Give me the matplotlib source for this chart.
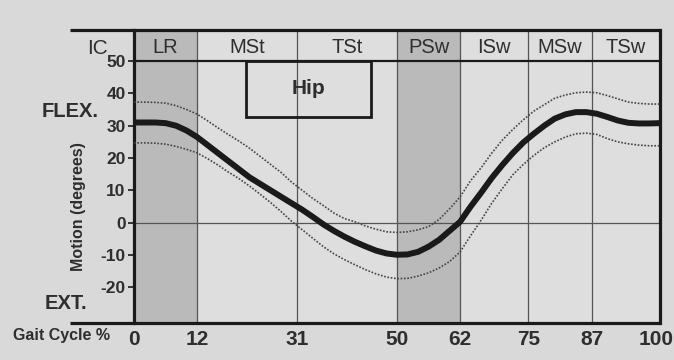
import matplotlib
matplotlib.use('Agg')
import matplotlib.pyplot as plt
import matplotlib.transforms as mtransforms
from matplotlib.patches import Rectangle

plt.rcParams['font.family'] = ['Liberation Sans', 'DejaVu Sans']

# gait cycle percent and hip angle (deg): mean curve with upper/lower bounds
gait_pct = [0, 2, 4, 6, 8, 10, 12, 14, 16, 18, 20, 22, 24, 26, 28, 30, 32, 34, 36, 38,
            40, 42, 44, 46, 48, 50, 52, 54, 56, 58, 60, 62, 64, 66, 68, 70, 72, 74, 76, 78,
            80, 82, 84, 86, 88, 90, 92, 94, 96, 98, 100]
hip_mean = [31, 31, 31, 30.8, 30, 28.5, 26.5, 24, 21.5, 19, 16.5, 14, 12, 10, 8, 6, 4, 1.8, -0.5, -2.5,
            -4.3, -5.9, -7.3, -8.6, -9.5, -9.9, -9.8, -9, -7.4, -5.3, -2.5, 0.3, 5, 9.3, 13.8, 17.8, 21.5, 24.8, 27.5, 30,
            32.2, 33.5, 34.2, 34.2, 33.7, 32.7, 31.6, 30.9, 30.7, 30.7, 30.8]
hip_upper = [37.3, 37.3, 37.2, 37, 36.2, 35, 33.6, 31.5, 29.3, 27.2, 25.2, 23, 20.5, 18, 15.5, 12.5, 10, 7.5, 5.3, 3,
             1.3, 0.3, -1, -2, -2.8, -3, -2.8, -2.2, -1.2, 1, 4.3, 8, 13, 17, 21.5, 25.5, 28.8, 31.8, 34.5, 36.5,
             38.5, 39.5, 40.2, 40.4, 40.2, 39.3, 38.3, 37.3, 36.9, 36.7, 36.7]
hip_lower = [24.7, 24.7, 24.6, 24.3, 23.6, 22.7, 21.6, 19.8, 17.8, 15.6, 13.6, 11.3, 8.8, 6.2, 3.4, 0.4, -2.2, -4.8, -7.4, -9.6,
             -11.4, -13, -14.5, -15.8, -16.8, -17.3, -17.2, -16.5, -15.5, -14, -12, -9, -4, 0.8, 6, 10.5, 14.8, 18, 20.8, 23.2,
             25, 26.5, 27.5, 27.7, 27.3, 26, 25, 24.4, 24, 23.8, 23.8]

phase_edges = [0, 12, 31, 50, 62, 75, 87, 100]
phase_names = ['LR', 'MSt', 'TSt', 'PSw', 'ISw', 'MSw', 'TSw']
shaded_phases = ['LR', 'PSw']
y_ticks = [-20, -10, 0, 10, 20, 30, 40, 50]

bg = '#d9d9d9'
ink = '#1a1a1a'
txt = '#2e2e2e'

fig = plt.figure(figsize=(6.74, 3.6), dpi=100, facecolor=bg)
ax = fig.add_axes([0.1988, 0.1028, 0.7804, 0.8139])
ax.set_facecolor('#dedede')
ax.set_xlim(0, 100)
ax.set_ylim(-31, 59.6)

# shaded phases run through the header row as well
for name, x0, x1 in zip(phase_names, phase_edges[:-1], phase_edges[1:]):
    if name in shaded_phases:
        ax.axvspan(x0, x1, color='#bababa', zorder=0, lw=0)
    ax.text((x0 + x1) / 2, 54.2, name, ha='center', va='center', fontsize=14.5, color=txt)

for x in phase_edges[1:-1]:
    ax.axvline(x, color='#555555', lw=0.9, zorder=1)
ax.axhline(0, color='#555555', lw=0.9, zorder=1)
ax.axhline(50, color=ink, lw=1.6, zorder=2)

ax.plot(gait_pct, hip_upper, color='#444444', lw=1.2, ls=(0, (1, 1)), zorder=3)
ax.plot(gait_pct, hip_lower, color='#444444', lw=1.2, ls=(0, (1, 1)), zorder=3)
ax.plot(gait_pct, hip_mean, color=ink, lw=4.3, solid_capstyle='butt', zorder=4)

ax.add_patch(Rectangle((21.3, 32.7), 23.8, 17.3, fill=False, edgecolor=ink, lw=2.0, zorder=5))
ax.text(33.2, 41.4, 'Hip', ha='center', va='center', fontsize=15, fontweight='bold', color=txt)

# frame: thick left/right, top and bottom rules run out to the left
for side in ['top', 'bottom']:
    ax.spines[side].set_visible(False)
for side in ['left', 'right']:
    ax.spines[side].set_linewidth(2.3)
    ax.spines[side].set_color(ink)
for yy in [0, 1]:
    ax.plot([-0.122, 1.0], [yy, yy], transform=ax.transAxes, color=ink, lw=2.3,
            clip_on=False, solid_capstyle='butt', zorder=6)

ax.set_yticks(y_ticks)
ax.set_yticklabels([str(v) for v in y_ticks], fontsize=12.5, fontweight='bold', color=txt)
ax.tick_params(axis='y', length=4, width=1.2, pad=2, color=ink)
ax.set_xticks(phase_edges)
ax.set_xticklabels([str(v) for v in phase_edges], fontsize=15, fontweight='bold', color=txt)
ax.tick_params(axis='x', length=0, pad=5)

# nudge the "100" label left so it stays inside the figure
last = ax.get_xticklabels()[-1]
last.set_transform(last.get_transform() + mtransforms.ScaledTranslation(-3 / 72, 0, fig.dpi_scale_trans))

fig.text(0.1447, 0.865, 'IC', ha='center', va='center', fontsize=15, color=txt)
fig.text(0.104, 0.689, 'FLEX.', ha='center', va='center', fontsize=14.5, fontweight='bold', color=txt)
fig.text(0.098, 0.158, 'EXT.', ha='center', va='center', fontsize=14.5, fontweight='bold', color=txt)
fig.text(0.117, 0.425, 'Motion (degrees)', ha='center', va='center', rotation=90,
         fontsize=11.5, fontweight='bold', color=txt)
fig.text(0.0913, 0.069, 'Gait Cycle %', ha='center', va='center', fontsize=11.5,
         fontweight='bold', color=txt)

fig.savefig('out.png', dpi=100, facecolor=bg)
